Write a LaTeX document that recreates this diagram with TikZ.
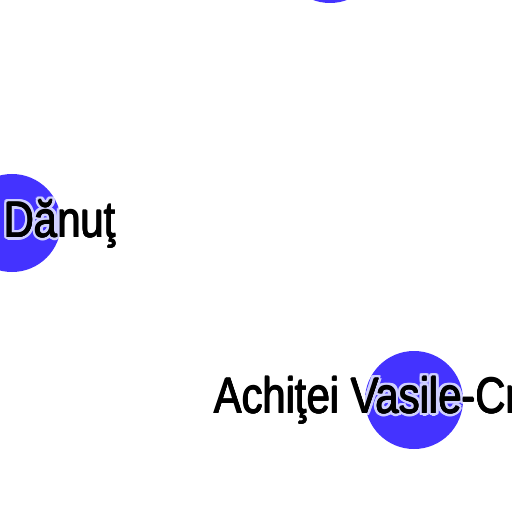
\documentclass[tikz,border=0pt]{standalone}
\usepackage{fontspec}
\setmainfont{Liberation Sans}
\usetikzlibrary{calc}
\definecolor{nodeblue}{HTML}{4433FF}
\definecolor{halo}{HTML}{D0D0FF}
\begin{document}
\begin{tikzpicture}[x=1bp,y=-1bp,
  vertex/.style={circle,fill=nodeblue,draw=none,minimum size=98bp,inner sep=0pt},
  lbl/.style={anchor=base west,inner sep=0pt,yscale=1.18,xscale=0.975,transform shape,font=\fontsize{43}{43}\selectfont}]
\useasboundingbox (0,0) rectangle (512,512);
\fill[white] (0,0) rectangle (512,512);
\node[vertex] (top) at (330,-46) {};
\node[vertex] (dan) at (12,223) {};
\node[vertex] (ach) at (414,400) {};
% halos clipped to circles
\begin{scope}
\clip (12,223) circle[radius=49bp];
\foreach \a in {0,22.5,...,359}{
  \node[lbl,text=halo] at ($(4,237)+(\a:3bp)$) {Dănuţ};
}
\end{scope}
\begin{scope}
\clip (414,400) circle[radius=49bp];
\foreach \a in {0,22.5,...,359}{
  \node[lbl,text=halo] at ($(214,413)+(\a:3bp)$) {Achiţei Vasile-Cr};
}
\end{scope}
\foreach \a in {0,90,180,270}{
  \node[lbl] at ($(4,237)+(\a:0.45bp)$) {Dănuţ};
  \node[lbl] at ($(214,413)+(\a:0.45bp)$) {Achiţei Vasile-Cr};
}
\node[lbl] (danlbl) at (4,237) {Dănuţ};
\node[lbl] (achlbl) at (214,413) {Achiţei Vasile-Cr};
\end{tikzpicture}
\end{document}
